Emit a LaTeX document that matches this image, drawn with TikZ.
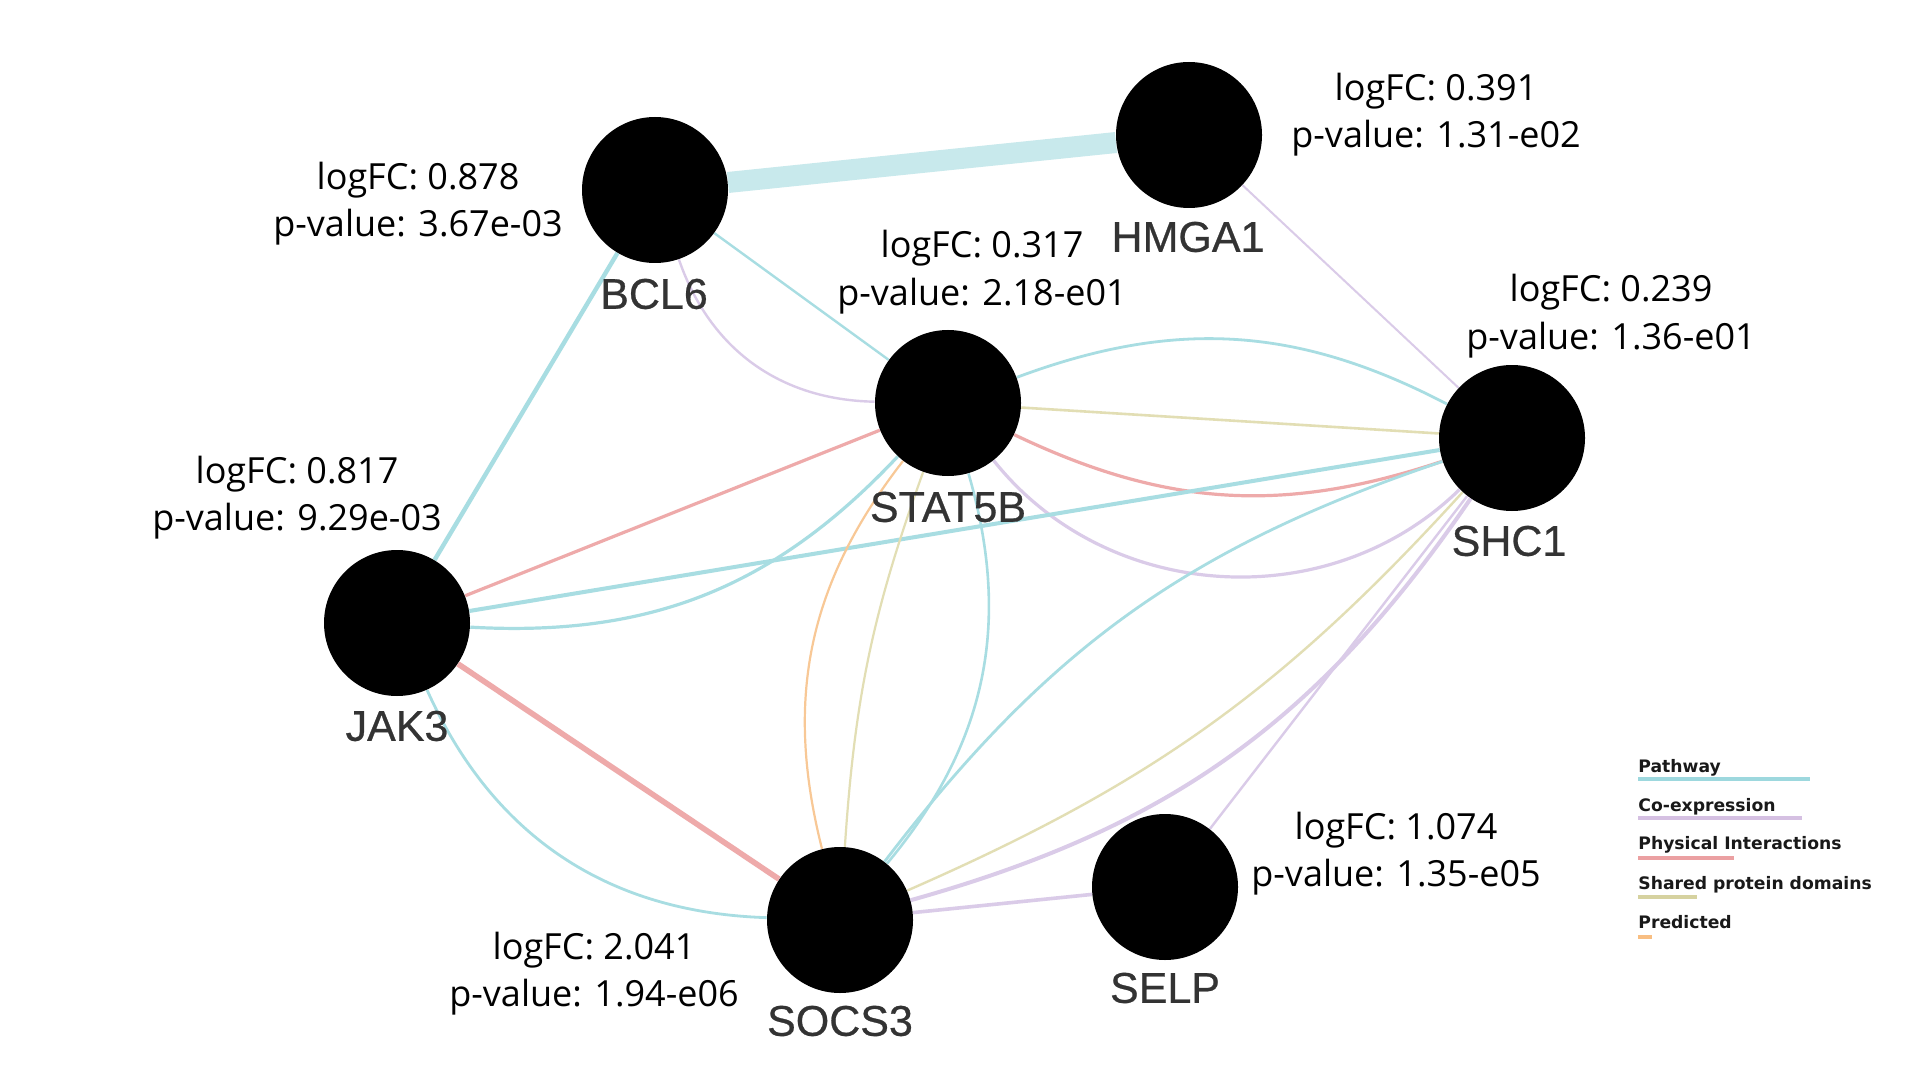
\documentclass[tikz,border=0pt]{standalone}
\usepackage{fontspec}
\setmainfont{Open Sans}
\newfontfamily\labelfont[FakeBold=0.6]{Liberation Sans}
\newfontfamily\legendfont{DejaVu Sans}
\usetikzlibrary{backgrounds}
\definecolor{pwc}{RGB}{168,221,226}
\definecolor{pwband}{RGB}{200,233,236}
\definecolor{coc}{RGB}{218,203,232}
\definecolor{phc}{RGB}{238,170,170}
\definecolor{shc}{RGB}{226,222,180}
\definecolor{prc}{RGB}{248,200,150}
\definecolor{pwl}{RGB}{157,216,222}
\definecolor{col}{RGB}{213,192,226}
\definecolor{phl}{RGB}{235,160,162}
\definecolor{shl}{RGB}{214,210,160}
\definecolor{prl}{RGB}{248,190,130}
\begin{document}
\begin{tikzpicture}[x=0.5pt,y=-0.5pt,
  gene/.style={circle,fill=black,inner sep=0pt,minimum size=73pt},
  glabel/.style={font=\labelfont\fontsize{21.5}{25}\selectfont,text=black!80,inner sep=0pt},
  ann/.style={font=\fontsize{18}{21}\selectfont,anchor=base,inner sep=0pt,text=black},
  leg/.style={font=\legendfont\bfseries\fontsize{8.6}{10}\selectfont,anchor=base west,inner sep=0pt,text=black!90},
  legline/.style={line width=2.2pt},
  pw/.style={draw=pwc},
  co/.style={draw=coc},
  ph/.style={draw=phc},
  sh/.style={draw=shc},
  pr/.style={draw=prc}]
\useasboundingbox (0,0) rectangle (1920,1080);

% genes
\node[gene] (bcl6)   at (655,190) {};
\node[gene] (hmga1)  at (1189,135) {};
\node[gene] (stat5b) at (948,403) {};
\node[gene] (shc1)   at (1512,438) {};
\node[gene] (jak3)   at (397,623) {};
\node[gene] (socs3)  at (840,920) {};
\node[gene] (selp)   at (1165,887) {};

% gene labels
\node[glabel] (lbcl6)   at (654,294) {BCL6};
\node[glabel] (lhmga1)  at (1188,237) {HMGA1};
\node[glabel] (lstat5b) at (948,507) {STAT5B};
\node[glabel] (lshc1)   at (1509,541) {SHC1};
\node[glabel] (ljak3)   at (397,726) {JAK3};
\node[glabel] (lsocs3)  at (840,1021) {SOCS3};
\node[glabel] (lselp)   at (1165,988) {SELP};

% annotations
\node[ann] (fhmga1) at (1436,101) {logFC: 0.391};
\node[ann] (phmga1) at (1436,148) {p-value: 1.31-e02};
\node[ann] (fbcl6) at (418,190) {logFC: 0.878};
\node[ann] (pbcl6) at (418,237) {p-value: 3.67e-03};
\node[ann] (fstat) at (982,258) {logFC: 0.317};
\node[ann] (pstat) at (982,306) {p-value: 2.18-e01};
\node[ann] (fshc) at (1611,302) {logFC: 0.239};
\node[ann] (pshc) at (1611,350) {p-value: 1.36-e01};
\node[ann] (fjak) at (297,483) {logFC: 0.817};
\node[ann] (pjak) at (297,530) {p-value: 9.29e-03};
\node[ann] (fselp) at (1396,839) {logFC: 1.074};
\node[ann] (pselp) at (1396,886) {p-value: 1.35-e05};
\node[ann] (fsocs) at (594,959) {logFC: 2.041};
\node[ann] (psocs) at (594,1006) {p-value: 1.94-e06};

% legend
\node[leg] (lpw) at (1638,772) {Pathway};
\node[leg] (lco) at (1638,811) {Co-expression};
\node[leg] (lph) at (1638,849) {Physical Interactions};
\node[leg] (lsh) at (1638,889) {Shared protein domains};
\node[leg] (lpr) at (1638,928) {Predicted};
\coordinate (pwa) at (1638,779); \coordinate (pwb) at (1810,779);
\coordinate (coa) at (1638,818); \coordinate (cob) at (1802,818);
\coordinate (pha) at (1638,858); \coordinate (phb) at (1734,858);
\coordinate (sha) at (1638,897); \coordinate (shb) at (1697,897);
\coordinate (pra) at (1638,937); \coordinate (prb) at (1652,937);
\draw[legline,pwl] (pwa) -- (pwb);
\draw[legline,col] (coa) -- (cob);
\draw[legline,phl] (pha) -- (phb);
\draw[legline,shl] (sha) -- (shb);
\draw[legline,prl] (pra) -- (prb);

\begin{pgfonlayer}{background}
\fill[white] (0,0) rectangle (1920,1080);
\draw[draw=pwband,line width=10.5pt] (bcl6) -- (hmga1);
\draw[pw,line width=2.2pt] (bcl6) -- (jak3);
\draw[pw,line width=1.2pt] (bcl6) -- (stat5b);
\draw[co,line width=1.2pt] (bcl6) to[bend right=35] (stat5b);
\draw[co,line width=1pt] (hmga1) -- (shc1);
\draw[pw,line width=1.4pt] (stat5b) to[bend left=24] (shc1);
\draw[sh,line width=1.3pt] (stat5b) -- (shc1);
\draw[ph,line width=1.6pt] (stat5b) to[bend right=22] (shc1);
\draw[co,line width=1.6pt] (stat5b) to[bend right=48] (shc1);
\draw[ph,line width=1.6pt] (jak3) -- (stat5b);
\draw[pw,line width=2pt] (jak3) -- (shc1);
\draw[pw,line width=1.6pt] (jak3) to[bend right=25] (stat5b);
\draw[ph,line width=2.8pt] (jak3) -- (socs3);
\draw[pw,line width=1.4pt] (jak3) to[bend right=32] (socs3);
\draw[pr,line width=1.1pt] (stat5b) to[bend right=26] (socs3);
\draw[sh,line width=1.1pt] (stat5b) to[bend right=8] (socs3);
\draw[pw,line width=1.3pt] (stat5b) to[bend left=28] (socs3);
\draw[pw,line width=1.4pt] (shc1) to[bend right=17] (socs3);
\draw[sh,line width=1.2pt] (shc1) to[bend left=12] (socs3);
\draw[co,line width=2pt] (shc1) to[bend left=20] (socs3);
\draw[co,line width=1.2pt] (shc1) -- (selp);
\draw[co,line width=1.8pt] (socs3) -- (selp);
\end{pgfonlayer}
\end{tikzpicture}
\end{document}
